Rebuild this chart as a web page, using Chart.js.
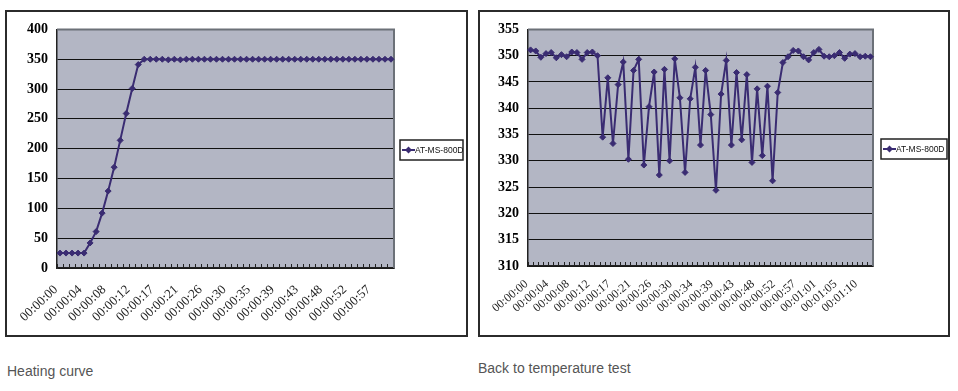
<!DOCTYPE html>
<html>
<head>
<meta charset="utf-8">
<script src="https://cdn.jsdelivr.net/npm/chart.js@4.4.1/dist/chart.umd.min.js"></script>
<style>
  body { margin: 0; background: #fff; width: 958px; height: 391px; position: relative; overflow: hidden; }
  .box { position: absolute; border: 2px solid #2b2b2b; box-sizing: border-box; background: #fff; }
  .box canvas { display: block; }
  .caption { position: absolute; font-family: "Liberation Sans", Arial, sans-serif; font-size: 14px; color: #555; white-space: nowrap; }
</style>
</head>
<body>
<div class="box" style="left:5px; top:10px; width:463px; height:327px;"><canvas id="heatChart" width="459" height="323"></canvas></div>
<div class="box" style="left:478px; top:10px; width:472px; height:327px;"><canvas id="backChart" width="468" height="323"></canvas></div>
<div class="caption" style="left:7px; top:363px;">Heating curve</div>
<div class="caption" style="left:478px; top:360px;">Back to temperature test</div>

<script>
// heating curve: one sample per category, a label on every 4th
const heatTicks = ['00:00:00', '00:00:04', '00:00:08', '00:00:12', '00:00:17', '00:00:21', '00:00:26',
    '00:00:30', '00:00:35', '00:00:39', '00:00:43', '00:00:48', '00:00:52', '00:00:57']
const heatValues = [25, 25, 25, 25, 25, 42, 61, 92, 129, 169, 214, 259, 301, 341,
    350, 350, 350, 350, 349, 350, 349, 350, 350, 350, 350, 350, 350, 350,
    350, 350, 350, 350, 350, 350, 350, 350, 350, 350, 350, 350, 350, 350,
    350, 350, 350, 350, 350, 350, 350, 350, 350, 350, 350, 350, 350, 350]

// back to temperature test
const backTicks = ['00:00:00', '00:00:04', '00:00:08', '00:00:12', '00:00:17', '00:00:21', '00:00:26',
    '00:00:30', '00:00:34', '00:00:39', '00:00:43', '00:00:48', '00:00:52', '00:00:57',
    '00:01:01', '00:01:05', '00:01:10']
const backValues = [351.1, 350.9, 349.7, 350.4, 350.6, 349.6, 350.2, 349.8, 350.7, 350.6, 349.3, 350.6, 350.7, 350.0,
    334.5, 345.8, 333.3, 344.5, 348.8, 330.3, 347.2, 349.3, 329.2, 340.3, 346.9, 327.3, 347.4, 330.0,
    349.4, 342.0, 327.8, 341.8, 347.8, 333.0, 347.2, 338.8, 324.4, 342.7, 349.1, 333.0, 346.8, 334.0,
    346.4, 329.7, 343.7, 331.0, 344.2, 326.2, 343.0, 348.7, 349.8,
    351.0, 350.9, 349.8, 349.2, 350.6, 351.2, 349.9, 349.8, 350.0, 350.6, 349.5, 350.3, 350.4, 349.8, 349.9, 349.8]

const seriesName = 'AT-MS-800D'
const lineColor = '#3a2c72'

// only every 4th category carries a label
function categories(values, ticks) {
    return values.map((v, i) => (i % 4 === 0 && ticks[i / 4]) ? ticks[i / 4] : '')
}

// grey plot area with the lighter frame on top and right
const plotFrame = {
    id: 'plotFrame',
    beforeDraw(chart) {
        const { ctx, chartArea: a } = chart
        ctx.save()
        ctx.fillStyle = '#b3b6c4'
        ctx.fillRect(a.left, a.top, a.right - a.left, a.bottom - a.top)
        ctx.restore()
    },
    beforeDatasetsDraw(chart) {
        const { ctx, chartArea: a } = chart
        ctx.save()
        ctx.strokeStyle = '#6c7178'
        ctx.lineWidth = 2
        ctx.beginPath()
        ctx.moveTo(a.left, a.top)
        ctx.lineTo(a.right, a.top)
        ctx.lineTo(a.right, a.bottom)
        ctx.stroke()
        ctx.restore()
    }
}

// Excel style legend: framed box right of the plot
const boxLegend = {
    id: 'boxLegend',
    afterDraw(chart, args, opts) {
        const { ctx, chartArea: a } = chart
        const w = opts.width, h = 20
        const x = a.right + opts.gap
        const y = Math.round((a.top + a.bottom) / 2 - h / 2 + 1)
        const cy = y + h / 2
        ctx.save()
        ctx.strokeStyle = '#222'
        ctx.lineWidth = 1.5
        ctx.strokeRect(x, y, w, h)
        ctx.strokeStyle = lineColor
        ctx.lineWidth = 2
        ctx.beginPath()
        ctx.moveTo(x + 2, cy)
        ctx.lineTo(x + 15, cy)
        ctx.stroke()
        ctx.fillStyle = lineColor
        ctx.beginPath()
        ctx.moveTo(x + 8.5, cy - 3.5)
        ctx.lineTo(x + 12, cy)
        ctx.lineTo(x + 8.5, cy + 3.5)
        ctx.lineTo(x + 5, cy)
        ctx.closePath()
        ctx.fill()
        ctx.fillStyle = '#111'
        ctx.font = '8.5px "Liberation Sans"'
        ctx.textBaseline = 'middle'
        ctx.fillText(chart.data.datasets[0].label, x + 15, cy + 0.5)
        ctx.restore()
    }
}

function makeChart(id, ticks, values, y, box) {
    const ctx = document.getElementById(id).getContext('2d')
    return new Chart(ctx, {
        type: 'line',
        data: {
            labels: categories(values, ticks),
            datasets: [{
                label: seriesName,
                data: values,
                borderColor: lineColor,
                borderWidth: 2,
                pointStyle: 'rectRot',
                pointRadius: 3,
                pointBackgroundColor: lineColor,
                pointBorderColor: lineColor,
                pointBorderWidth: 1,
                tension: 0
            }]
        },
        options: {
            responsive: false,
            animation: false,
            layout: { padding: { top: box.top, right: box.right, left: 0, bottom: 0 } },
            plugins: {
                legend: { display: false },
                tooltip: { enabled: false },
                boxLegend: { gap: box.gap, width: box.legendWidth }
            },
            scales: {
                x: {
                    type: 'category',
                    offset: true,
                    grid: { offset: true, drawOnChartArea: false, drawTicks: true, tickLength: -4, color: '#222', lineWidth: 1 },
                    border: { color: '#222', width: 1.5 },
                    ticks: {
                        autoSkip: false,
                        maxRotation: box.tickRot,
                        minRotation: box.tickRot,
                        padding: box.tickPad,
                        labelOffset: -4,
                        color: '#222',
                        font: { family: '"Liberation Serif"', size: box.tickSize }
                    },
                    afterFit(scale) {
                        scale.height = box.xHeight
                        // labels may hang past the plot edge, do not shrink the plot for them
                        scale.paddingLeft = 0
                        scale.paddingRight = 0
                    }
                },
                y: {
                    min: y.min,
                    max: y.max,
                    ticks: {
                        stepSize: y.step,
                        padding: 9,
                        color: '#000',
                        font: { family: '"Liberation Serif"', size: 14, weight: 'bold' }
                    },
                    grid: { color: '#111', lineWidth: 1, drawTicks: false },
                    border: { color: '#222', width: 1.5 },
                    afterFit(scale) { scale.width = box.yWidth }
                }
            }
        },
        plugins: [plotFrame, boxLegend]
    })
}

makeChart('heatChart', heatTicks, heatValues, { min: 0, max: 400, step: 50 },
    { top: 13, right: 72, yWidth: 50, xHeight: 67, gap: 6, legendWidth: 63, tickSize: 13, tickPad: 18, tickRot: 43 })
makeChart('backChart', backTicks, backValues, { min: 310, max: 355, step: 5 },
    { top: 12, right: 75, yWidth: 48, xHeight: 69, gap: 8, legendWidth: 66, tickSize: 12, tickPad: 15, tickRot: 40 })
</script>
</body>
</html>
